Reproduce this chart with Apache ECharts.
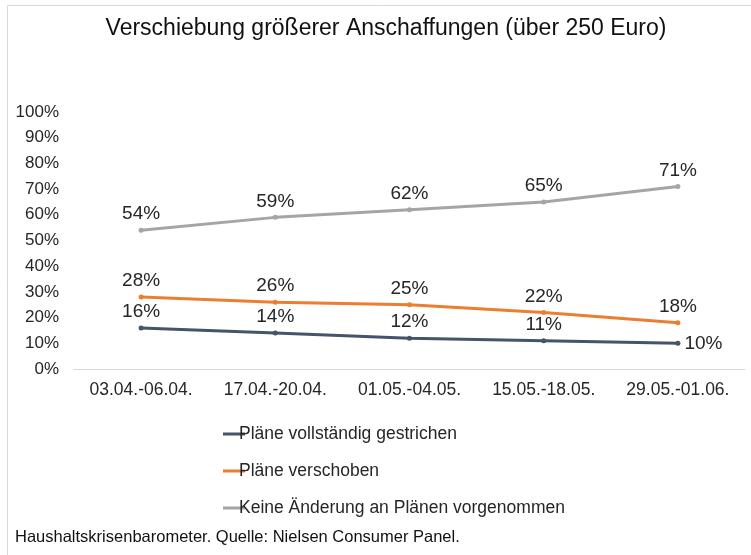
<!DOCTYPE html>
<html>
<head>
<meta charset="utf-8">
<script src="https://cdn.jsdelivr.net/npm/echarts@6/dist/echarts.min.js"></script>
<style>
  html, body { margin: 0; padding: 0; background: #fff; }
  #chart { width: 751px; height: 555px; }
</style>
</head>
<body>
<div id="chart"></div>
<script>
// Zeiträume (x-Achse)
var categories = ['03.04.-06.04.', '17.04.-20.04.', '01.05.-04.05.', '15.05.-18.05.', '29.05.-01.06.'];
// Werte in Prozent
var gestrichen = [16, 14, 12, 11, 10];
var verschoben = [28, 26, 25, 22, 18];
var keineAenderung = [54, 59, 62, 65, 71];
var seriesNames = ['Pläne vollständig gestrichen', 'Pläne verschoben', 'Keine Änderung an Plänen vorgenommen'];

var FONT = '"Liberation Sans", Arial, sans-serif';
var chart = echarts.init(document.getElementById('chart'));

function lineSeries(name, data, color) {
  return {
    name: name,
    type: 'line',
    data: data,
    symbol: 'circle',
    symbolSize: 5,
    lineStyle: { width: 3, color: color },
    itemStyle: { color: color },
    label: {
      show: true,
      position: 'top',
      distance: 4,
      formatter: '{c}%',
      fontFamily: FONT,
      fontSize: 19,
      color: '#262626'
    }
  };
}

var s1 = lineSeries(seriesNames[0], gestrichen, '#44546A');
// last label sits to the right of the point
s1.data = gestrichen.map(function (v, i) {
  if (i === gestrichen.length - 1) {
    return { value: v, label: { position: 'right', distance: 4 } };
  }
  return v;
});

chart.setOption({
  animation: false,
  textStyle: { fontFamily: FONT },
  title: {
    text: 'Verschiebung größerer Anschaffungen (über 250 Euro)',
    left: 381,
    textAlign: 'center',
    top: 12,
    textStyle: { fontFamily: FONT, fontSize: 23, fontWeight: 'normal', color: '#111' }
  },
  graphic: [
    {
      type: 'rect',
      shape: { x: 7.5, y: 5.5, width: 760, height: 560 },
      style: { fill: 'none', stroke: '#d9d9d9', lineWidth: 1 },
      silent: true
    },
    {
      type: 'text',
      left: 15,
      top: 529,
      style: {
        text: 'Haushaltskrisenbarometer. Quelle: Nielsen Consumer Panel.',
        font: '16.5px ' + FONT,
        fill: '#111'
      }
    }
  ],
  legend: {
    orient: 'vertical',
    left: 218,
    top: 420,
    itemGap: 19,
    itemWidth: 22,
    itemHeight: 3,
    icon: 'rect',
    textStyle: { fontFamily: FONT, fontSize: 17.5, lineHeight: 18, color: '#262626', padding: [0, 0, 0, -11] },
    data: seriesNames
  },
  grid: { left: 74, right: 6, top: 112, bottom: 186, containLabel: false },
  xAxis: {
    type: 'category',
    data: categories,
    boundaryGap: true,
    axisLine: { lineStyle: { color: '#d9d9d9', width: 1 } },
    axisTick: { show: false },
    axisLabel: { fontFamily: FONT, fontSize: 17.5, color: '#262626', margin: 12 }
  },
  yAxis: {
    type: 'value',
    min: 0,
    max: 100,
    interval: 10,
    axisLine: { show: false },
    axisTick: { show: false },
    splitLine: { show: false },
    axisLabel: { formatter: '{value}%', fontFamily: FONT, fontSize: 17, color: '#262626', margin: 15 }
  },
  series: [
    s1,
    lineSeries(seriesNames[1], verschoben, '#ED7D31'),
    lineSeries(seriesNames[2], keineAenderung, '#A5A5A5')
  ]
});
</script>
</body>
</html>
